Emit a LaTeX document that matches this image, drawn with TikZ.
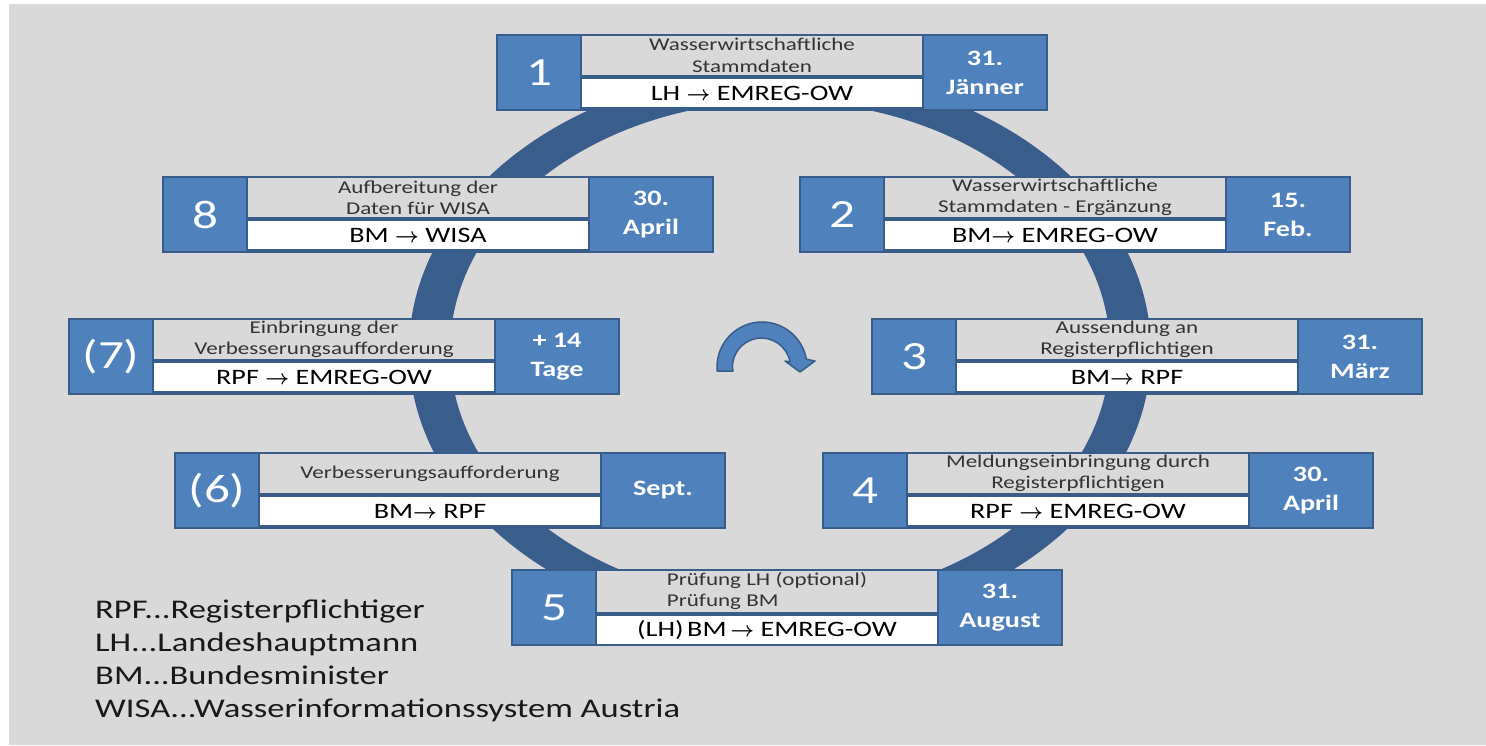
\documentclass[tikz,border=0pt]{standalone}
\usepackage{fontspec}
\setmainfont{Carlito}[FakeStretch=1.28]
\definecolor{boxblue}{HTML}{4F81BD}
\definecolor{darkblue}{HTML}{385D8A}
\definecolor{ringblue}{HTML}{3A5E8C}
\definecolor{bggray}{HTML}{D9D9D9}

\newcommand{\pfeil}{{\boldmath$\rightarrow$}}

% one step: name, x, y, number, task, flow, date
\newcommand{\schritt}[7]{%
\node[numcell, anchor=north west] (#1n) at (#2,#3) {#4};
\node[taskcell, anchor=north west] (#1t) at (#1n.north east) {#5};
\node[flowcell, anchor=north west] (#1f) at ([yshift=-2pt]#1t.south west) {#6};
\node[datecell, anchor=north west] (#1d) at (#1t.north east) {#7};
\draw[frame] (#1n.north west) rectangle (#1d.south east);
}

\begin{document}
\begin{tikzpicture}[x=1pt, y=-1pt,
  numcell/.style={fill=boxblue, draw=darkblue, line width=1.5pt, minimum width=84pt, minimum height=75pt, inner sep=0pt, outer sep=0pt, text=white, font=\fontsize{40}{40}\selectfont},
  taskcell/.style={fill=bggray, draw=darkblue, line width=1.5pt, minimum width=342pt, minimum height=41pt, inner sep=0pt, outer sep=0pt, text=black!80, align=center, font=\fontsize{18}{21.5}\selectfont},
  flowcell/.style={fill=white, draw=darkblue, line width=1.5pt, minimum width=342pt, minimum height=30pt, inner sep=0pt, outer sep=0pt, text=black, font=\fontsize{22}{26}\selectfont},
  datecell/.style={fill=boxblue, draw=darkblue, line width=1.5pt, minimum width=124pt, minimum height=75pt, inner sep=0pt, outer sep=0pt, text=white, align=center, font=\bfseries\fontsize{22}{29}\selectfont},
  frame/.style={draw=darkblue, line width=2.5pt},
  legend/.style={text=black!90, inner sep=0pt, anchor=base west, font=\fontsize{27}{33}\selectfont},
  turn/.style={fill=boxblue, draw=darkblue, line width=1.5pt, line join=round}]
\useasboundingbox (0,0) rectangle (1486,745);
\fill[white] (0,0) rectangle (1486,745);
\fill[bggray] (9,4) rectangle (1486,745);

% ring
\fill[ringblue, even odd rule] (780,351) ellipse[x radius=371, y radius=281]
  (780,351) ellipse[x radius=330, y radius=250];

\schritt{s1}{497}{35}{1}{Wasserwirtschaftliche\\Stammdaten}{LH \pfeil{} EMREG-OW}{31.\\Jänner}
\schritt{s2}{800}{177}{2}{Wasserwirtschaftliche\\Stammdaten - Ergänzung}{BM\pfeil{} EMREG-OW}{15.\\Feb.}
\schritt{s3}{872}{319}{3}{Aussendung an\\Registerpflichtigen}{BM\pfeil{} RPF}{31.\\März}
\schritt{s4}{823}{453}{4}{Meldungseinbringung durch\\Registerpflichtigen}{RPF \pfeil{} EMREG-OW}{30.\\April}
\schritt{s5}{512}{570}{5}{\begin{tabular}{@{}l@{}}Prüfung LH (optional)\\Prüfung BM\end{tabular}}{(LH)\,BM\,\pfeil{} EMREG-OW}{31.\\August}
\schritt{s6}{175}{453}{(6)}{Verbesserungsaufforderung}{BM\pfeil{} RPF}{Sept.}
\schritt{s7}{69}{319}{(7)}{Einbringung der\\Verbesserungsaufforderung}{RPF \pfeil{} EMREG-OW}{+ 14\\Tage}
\schritt{s8}{163}{177}{8}{Aufbereitung der\\Daten für WISA}{BM \pfeil{} WISA}{30.\\April}

% turning arrow in the middle
\filldraw[turn] (717,371) -- (717,367) arc[start angle=180, end angle=350, radius=45]
  -- (815,361) -- (800,372) -- (785,361) -- (790,362)
  arc[start angle=350, end angle=180, radius=29] -- (733,371) -- cycle;

% legend
\node[legend] (leg1) at (95,618) {RPF...Registerpflichtiger};
\node[legend] (leg2) at (95,651) {LH...Landeshauptmann};
\node[legend] (leg3) at (95,684) {BM...Bundesminister};
\node[legend] (leg4) at (95,717) {WISA...Wasserinformationssystem Austria};
\end{tikzpicture}
\end{document}
